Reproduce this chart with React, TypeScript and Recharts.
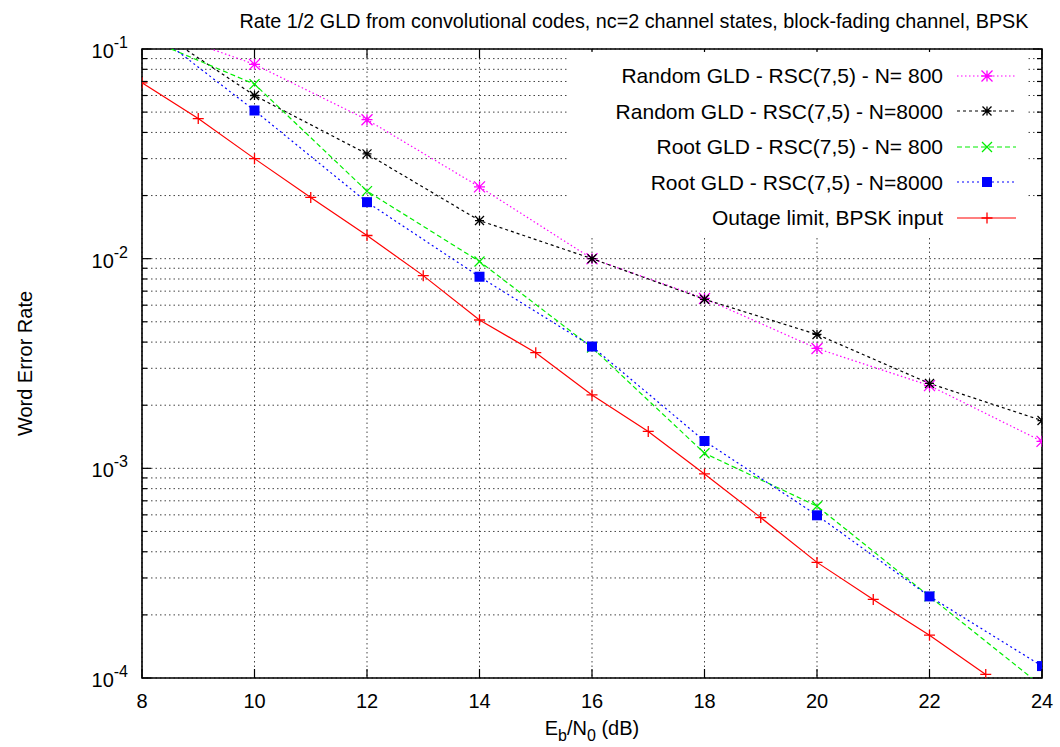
import React from "react";
import {
  CartesianGrid,
  Label,
  Legend,
  Line,
  LineChart,
  ReferenceArea,
  XAxis,
  YAxis,
} from "recharts";

// Eb/N0 values (dB)
const EBN0_COARSE = [8, 10, 12, 14, 16, 18, 20, 22, 24];
const EBN0_FINE = [8, 9, 10, 11, 12, 13, 14, 15, 16, 17, 18, 19, 20, 21, 22, 23];

// word error rates
const RANDOM_N800 = [0.131, 0.0845, 0.046, 0.022, 0.01, 0.00646, 0.00373, 0.00248, 0.001345];
const RANDOM_N8000 = [0.137, 0.06, 0.0316, 0.0152, 0.01, 0.0064, 0.00435, 0.00254, 0.00169];
const ROOT_N800 = [0.1145, 0.068, 0.021, 0.0097, 0.00377, 0.00118, 0.00066, 0.000245, 0.0000914];
const ROOT_N8000 = [0.132, 0.0509, 0.0186, 0.0082, 0.00381, 0.00135, 0.000597, 0.000245, 0.000114];
const OUTAGE = [
  0.069, 0.0466, 0.03, 0.0196, 0.0129, 0.0083, 0.0051, 0.00356, 0.00224, 0.0015, 0.00094,
  0.000582, 0.000356, 0.000237, 0.00016, 0.000104,
];

const X_TICKS = [8, 10, 12, 14, 16, 18, 20, 22, 24];
const Y_MANTISSAS = [1, 2, 3, 4, 5, 6, 7, 8, 9];
const Y_DECADES = [1e-4, 1e-3, 1e-2];
const Y_TICKS = [...Y_DECADES.flatMap((d) => Y_MANTISSAS.map((m) => m * d)), 0.1];

const FONT = "'Liberation Sans', Arial, Helvetica, sans-serif";
const PLOT_W = 900;
const PLOT_H = 629;

type MarkerKind = "star" | "cross" | "plus" | "square";

type Series = {
  name: string;
  x: number[];
  y: number[];
  color: string;
  dash?: string;
  marker: MarkerKind;
  size: number;
};

const SERIES: Series[] = [
  { name: "Random GLD - RSC(7,5) - N= 800", x: EBN0_COARSE, y: RANDOM_N800, color: "#ff00ff", dash: "1.5 2.5", marker: "star", size: 5.5 },
  { name: "Random GLD - RSC(7,5) - N=8000", x: EBN0_COARSE, y: RANDOM_N8000, color: "#000000", dash: "3 3", marker: "star", size: 4.5 },
  { name: "Root GLD - RSC(7,5) - N= 800", x: EBN0_COARSE, y: ROOT_N800, color: "#00ee00", dash: "5 3", marker: "cross", size: 5 },
  { name: "Root GLD - RSC(7,5) - N=8000", x: EBN0_COARSE, y: ROOT_N8000, color: "#0000ff", dash: "2 3", marker: "square", size: 5 },
  { name: "Outage limit, BPSK input", x: EBN0_FINE, y: OUTAGE, color: "#ff0000", marker: "plus", size: 5.5 },
];

const toRows = (xs: number[], ys: number[]) => xs.map((x, i) => ({ ebn0: x, wer: ys[i] }));

const Marker = ({ kind, cx, cy, color, size }: { kind: MarkerKind; cx: number; cy: number; color: string; size: number }) => {
  const s = size;
  const plus = `M${cx - s},${cy}H${cx + s}M${cx},${cy - s}V${cy + s}`;
  const cross = `M${cx - s},${cy - s}L${cx + s},${cy + s}M${cx - s},${cy + s}L${cx + s},${cy - s}`;
  if (kind === "square") {
    return <rect x={cx - s} y={cy - s} width={2 * s} height={2 * s} fill={color} />;
  }
  const d = kind === "plus" ? plus : kind === "cross" ? cross : `${plus}${cross}`;
  return <path d={d} stroke={color} strokeWidth={1.3} fill="none" />;
};

const XTick = (props: any) => {
  const { x, y, payload } = props;
  return (
    <g>
      <line x1={x} x2={x} y1={y} y2={y - 9} stroke="#000" strokeWidth={1.2} />
      <line x1={x} x2={x} y1={y - PLOT_H} y2={y - PLOT_H + 9} stroke="#000" strokeWidth={1.2} />
      <text x={x} y={y + 29.5} textAnchor="middle" fontSize={20} fontFamily={FONT} fill="#000">
        {payload.value}
      </text>
    </g>
  );
};

const YTick = (props: any) => {
  const { x, y, payload } = props;
  const v: number = payload.value;
  const exp = Math.floor(Math.log10(v) + 1e-9);
  const major = Math.abs(v / Math.pow(10, exp) - 1) < 1e-6;
  const len = major ? 9 : 5;
  return (
    <g>
      <line x1={x} x2={x + len} y1={y} y2={y} stroke="#000" strokeWidth={1.2} />
      <line x1={x + PLOT_W} x2={x + PLOT_W - len} y1={y} y2={y} stroke="#000" strokeWidth={1.2} />
      {major && (
        <text x={x - 14} y={y + 9} textAnchor="end" fontSize={20} fontFamily={FONT} fill="#000">
          <tspan>10</tspan>
          <tspan dy={-10} fontSize={16}>{exp}</tspan>
        </text>
      )}
    </g>
  );
};

const XLabel = (props: any) => {
  const { viewBox } = props;
  const cx = viewBox.x + viewBox.width / 2;
  return (
    <text x={cx} y={735} textAnchor="middle" fontSize={20} fontFamily={FONT} fill="#000">
      <tspan>E</tspan>
      <tspan dy={6} fontSize={16}>b</tspan>
      <tspan dy={-6}>/N</tspan>
      <tspan dy={6} fontSize={16}>0</tspan>
      <tspan dy={-6}> (dB)</tspan>
    </text>
  );
};

const YLabel = (props: any) => {
  const { viewBox } = props;
  const cy = viewBox.y + viewBox.height / 2;
  return (
    <text
      x={32}
      y={cy}
      transform={`rotate(-90 32 ${cy})`}
      textAnchor="middle"
      fontSize={20}
      fontFamily={FONT}
      fill="#000"
    >
      Word Error Rate
    </text>
  );
};

const LegendBox = () => (
  <div
    style={{
      background: "#fff",
      padding: "6px 11px 0 0",
      width: 460,
      height: 184,
      boxSizing: "border-box",
      fontFamily: FONT,
      color: "#000",
    }}
  >
    {SERIES.map((s) => (
      <div
        key={s.name}
        style={{ display: "flex", alignItems: "center", height: 35.5, fontSize: 21, lineHeight: "21px" }}
      >
        <span style={{ flex: 1, textAlign: "right", whiteSpace: "pre" }}>{s.name}</span>
        <svg width={59} height={20} style={{ marginLeft: 14, display: "block" }}>
          <line x1={0} x2={59} y1={10} y2={10} stroke={s.color} strokeDasharray={s.dash} strokeWidth={1.2} />
          <Marker kind={s.marker} cx={30} cy={10} color={s.color} size={s.size} />
        </svg>
      </div>
    ))}
  </div>
);

export default function App() {
  return (
    <div
      style={{
        position: "absolute",
        left: 0,
        top: 0,
        width: 1060,
        height: 747,
        background: "#fff",
        fontFamily: FONT,
      }}
    >
      <div
        style={{
          position: "absolute",
          left: 134,
          top: 11,
          width: 1000,
          textAlign: "center",
          fontSize: 19.8,
          lineHeight: "20px",
          color: "#000",
          whiteSpace: "nowrap",
        }}
      >
        Rate 1/2 GLD from convolutional codes, nc=2 channel states, block-fading channel, BPSK
      </div>
      <LineChart width={1060} height={747} margin={{ top: 49, right: 18, left: 0, bottom: 0 }}>
        <CartesianGrid stroke="#444" strokeDasharray="1.5 3" strokeWidth={1} />
        <XAxis
          dataKey="ebn0"
          type="number"
          domain={[8, 24]}
          ticks={X_TICKS}
          allowDataOverflow
          height={69}
          tickSize={0}
          tickMargin={0}
          tickLine={false}
          axisLine={false}
          tick={<XTick />}
          interval={0}
        >
          <Label content={<XLabel />} />
        </XAxis>
        <YAxis
          type="number"
          scale="log"
          domain={[1e-4, 0.1]}
          ticks={Y_TICKS}
          allowDataOverflow
          width={142}
          tickSize={0}
          tickMargin={0}
          tickLine={false}
          axisLine={false}
          tick={<YTick />}
          interval={0}
        >
          <Label content={<YLabel />} />
        </YAxis>
        {SERIES.map((s) => (
          <Line
            key={s.name}
            name={s.name}
            data={toRows(s.x, s.y)}
            dataKey="wer"
            type="linear"
            stroke={s.color}
            strokeWidth={1.2}
            strokeDasharray={s.dash}
            isAnimationActive={false}
            activeDot={false}
            dot={(p: any) => (
              <Marker
                key={`${s.name}-${p.index}`}
                kind={s.marker}
                cx={p.cx}
                cy={p.cy}
                color={s.color}
                size={s.size}
              />
            )}
          />
        ))}
        <ReferenceArea
          x1={8}
          x2={24}
          y1={1e-4}
          y2={0.1}
          fill="none"
          fillOpacity={0}
          stroke="#000"
          strokeWidth={1.6}
          ifOverflow="visible"
        />
        <Legend
          layout="vertical"
          align="center"
          verticalAlign="middle"
          content={<LegendBox />}
          wrapperStyle={{ left: 567, top: 52, width: 460, height: 184 }}
        />
      </LineChart>
    </div>
  );
}
